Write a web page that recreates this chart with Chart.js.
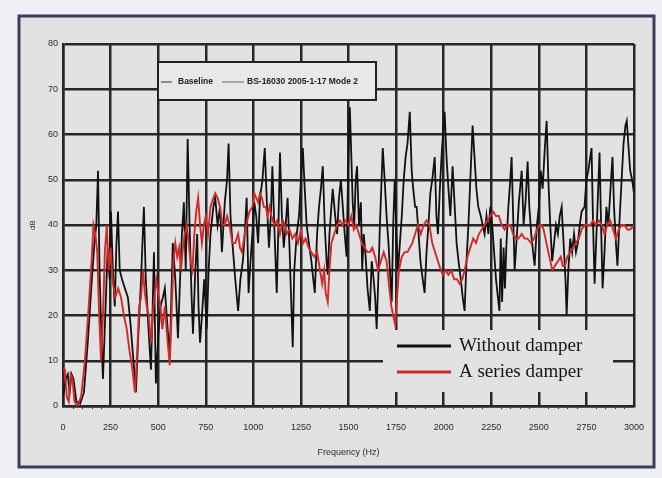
<!DOCTYPE html>
<html>
<head>
<meta charset="utf-8">
<title>Frequency response</title>
<script src="https://cdn.jsdelivr.net/npm/chart.js@4.4.0/dist/chart.umd.min.js"></script>
<style>
  html, body { margin: 0; padding: 0; background: #eef0f5; }
  #wrap { width: 662px; height: 478px; }
</style>
</head>
<body>
<div id="wrap"><canvas id="myChart" width="662" height="478"></canvas></div>
<script>
// values (Hz / dB), one line of freqs matches one line of values
const freqBlack = [
  0, 15, 25, 35, 45, 55, 70, 90, 110, 130,
  150, 165, 175, 184, 192, 200, 210, 222, 235, 245,
  252, 262, 272, 280, 289, 298, 310, 325, 341, 355,
  370, 383, 395, 410, 425, 435, 448, 462, 470, 478,
  483, 488, 500, 512, 525, 535, 548, 561, 570, 577,
  590, 604, 615, 625, 635, 645, 655, 665, 675, 683,
  695, 705, 712, 720, 730, 742, 755, 765, 775, 790,
  800, 812, 825, 835, 850, 862, 870, 880, 892, 905,
  920, 932, 945, 955, 965, 975, 985, 995, 1005, 1015,
  1025, 1035, 1048, 1060, 1072, 1082, 1092, 1100, 1110, 1123,
  1132, 1140, 1150, 1160, 1170, 1180, 1190, 1200, 1207, 1215,
  1228, 1240, 1250, 1260, 1270, 1280, 1292, 1305, 1315, 1323,
  1335, 1345, 1355, 1365, 1375, 1385, 1391, 1400, 1410, 1417,
  1430, 1440, 1450, 1460, 1470, 1480, 1490, 1498, 1507, 1515,
  1522, 1530, 1538, 1545, 1555, 1565, 1572, 1580, 1590, 1600,
  1612, 1622, 1632, 1640, 1648, 1658, 1665, 1672, 1680, 1690,
  1700, 1710, 1720, 1727, 1735, 1743, 1752, 1760, 1770, 1780,
  1790, 1800, 1810, 1822, 1832, 1840, 1850, 1858, 1868, 1878,
  1890, 1900, 1910, 1920, 1930, 1940, 1953, 1962, 1970, 1980,
  1990, 2005, 2015, 2025, 2035, 2047, 2058, 2068, 2078, 2090,
  2100, 2110, 2120, 2130, 2140, 2152, 2162, 2172, 2182, 2195,
  2205, 2215, 2225, 2235, 2245, 2255, 2265, 2275, 2285, 2293,
  2300, 2307, 2315, 2322, 2330, 2340, 2350, 2357, 2365, 2373,
  2385, 2395, 2410, 2420, 2430, 2441, 2450, 2460, 2470, 2478,
  2490, 2500, 2510, 2520, 2530, 2541, 2550, 2560, 2570, 2580,
  2590, 2600, 2610, 2620, 2630, 2640, 2646, 2655, 2665, 2675,
  2685, 2695, 2705, 2715, 2725, 2740, 2750, 2760, 2770, 2777,
  2785, 2793, 2800, 2810, 2819, 2827, 2835, 2845, 2855, 2865,
  2875, 2887, 2895, 2905, 2913, 2925, 2935, 2945, 2955, 2962,
  2970, 2980, 2990, 3000
];
const dbBlack = [
  2, 6, 7, 3, 7, 6, 1, 0.5, 3, 14,
  27, 36, 40, 52, 30, 18, 6, 20, 35, 28,
  43, 30, 22, 35, 43, 30, 28, 26, 24, 18,
  10, 3, 15, 28, 44, 28, 18, 8, 20, 34,
  18, 5, 15, 22, 24, 26, 18, 11, 25, 36,
  28, 15, 28, 38, 45, 30, 59, 40, 25, 16,
  30, 38, 22, 14, 20, 28, 17, 30, 38, 44,
  46, 40, 44, 34, 45, 50, 58, 42, 35, 28,
  21, 28, 32, 38, 46, 25, 32, 38, 45, 42,
  36, 46, 50, 57, 44, 35, 42, 53, 40, 25,
  40, 56, 42, 35, 40, 46, 35, 22, 13, 30,
  38, 42, 50, 57, 48, 40, 36, 32, 28, 25,
  38, 44, 48, 53, 40, 32, 29, 38, 44, 48,
  42, 38, 46, 50, 44, 38, 33, 52, 66, 55,
  45, 40, 50, 53, 40, 45, 30, 38, 33, 26,
  21, 32, 28, 24, 17, 30, 40, 48, 57, 50,
  42, 36, 28, 23, 40, 50, 38, 30, 36, 42,
  50, 55, 58, 65, 52, 48, 44, 44, 38, 32,
  28, 25, 34, 40, 47, 50, 55, 42, 38, 48,
  56, 65, 55, 48, 42, 53, 44, 36, 32, 28,
  24, 21, 32, 40, 50, 62, 55, 48, 44, 42,
  40, 38, 42, 38, 44, 40, 34, 28, 24, 21,
  37, 23, 35, 26, 36, 44, 50, 55, 42, 30,
  38, 45, 52, 40, 45, 54, 44, 38, 34, 31,
  40, 44, 52, 48, 56, 63, 50, 40, 32, 36,
  40, 38, 42, 44, 36, 28, 20, 30, 37, 34,
  38, 34, 36, 40, 43, 44, 50, 52, 55, 57,
  40, 27, 35, 46, 56, 40, 26, 34, 44, 40,
  47, 55, 44, 36, 31, 42, 50, 58, 62, 63,
  58, 52, 50, 47
];

const freqRed = [
  0, 10, 20, 30, 40, 50, 60, 75, 95, 115,
  135, 150, 160, 170, 180, 190, 200, 210, 220, 230,
  240, 250, 260, 275, 290, 305, 320, 335, 350, 365,
  378, 390, 400, 410, 420, 430, 440, 450, 462, 475,
  490, 500, 512, 522, 535, 548, 561, 570, 580, 590,
  600, 610, 620, 630, 640, 650, 660, 670, 680, 690,
  700, 710, 720, 730, 740, 750, 762, 775, 790, 800,
  812, 825, 838, 850, 862, 875, 890, 905, 920, 930,
  940, 955, 968, 980, 995, 1005, 1015, 1025, 1035, 1045,
  1055, 1065, 1075, 1085, 1095, 1110, 1125, 1140, 1155, 1165,
  1175, 1190, 1205, 1220, 1235, 1250, 1262, 1275, 1290, 1305,
  1320, 1335, 1350, 1362, 1372, 1380, 1391, 1400, 1410, 1425,
  1440, 1455, 1470, 1485, 1500, 1515, 1528, 1540, 1555, 1570,
  1585, 1600, 1612, 1625, 1640, 1655, 1670, 1685, 1700, 1712,
  1725, 1735, 1745, 1755, 1765, 1780, 1795, 1810, 1822, 1835,
  1850, 1865, 1880, 1895, 1910, 1925, 1940, 1955, 1970, 1985,
  1995, 2010, 2025, 2040, 2055, 2070, 2084, 2098, 2110, 2125,
  2140, 2155, 2170, 2185, 2200, 2215, 2230, 2245, 2260, 2275,
  2290, 2305, 2320, 2335, 2350, 2365, 2380, 2393, 2410, 2425,
  2440, 2460, 2475, 2490, 2505, 2515, 2525, 2540, 2555, 2571,
  2585, 2600, 2615, 2625, 2637, 2650, 2665, 2680, 2695, 2710,
  2725, 2740, 2755, 2770, 2785, 2800, 2815, 2830, 2845, 2860,
  2875, 2890, 2905, 2920, 2935, 2950, 2965, 2980, 3000
];
const dbRed = [
  8, 8, 2, 1, 7, 6, 1, 0, 2, 10,
  22, 32, 40, 38, 34, 20, 10, 20, 34, 40,
  30, 35, 28, 24, 26, 24, 20, 17, 12, 8,
  3, 12, 22, 24, 30, 25, 22, 20, 14, 22,
  28, 25, 22, 17, 22, 15, 9, 20, 32, 36,
  33, 35, 30, 35, 38, 40, 36, 32, 30, 38,
  43, 46, 40, 36, 40, 42, 38, 44, 46, 47,
  46, 44, 40, 40, 42, 40, 36, 36, 38, 35,
  34, 38, 41, 43, 44, 47, 46, 45, 47, 46,
  44, 44, 42, 44, 42, 40, 41, 38, 41, 40,
  38, 39, 37, 38, 36, 39, 36, 37, 35, 34,
  33, 34, 30, 27, 30, 25, 23, 30, 36, 38,
  40, 41, 40, 41, 40, 42, 39, 40, 38, 36,
  35, 34, 34, 35, 33, 30, 32, 34, 32, 27,
  22, 20, 18, 24, 30, 33, 34, 34, 35, 36,
  38, 40, 38, 40, 41, 40, 36, 34, 32, 30,
  29, 30, 29, 30, 28, 28, 27, 28, 30, 33,
  35, 37, 36, 38, 39, 40, 41, 42, 43, 42,
  42, 40, 39, 40, 40, 38, 37, 37, 38, 37,
  37, 36, 37, 39, 40, 40, 39, 36, 33, 30,
  31, 32, 33, 31, 31, 33, 34, 35, 36, 37,
  39, 40, 40, 40, 41, 40, 41, 40, 38, 40,
  41, 39, 37, 39, 40, 40, 39, 39, 40
];

const xTicks = [0, 250, 500, 750, 1000, 1250, 1500, 1750, 2000, 2250, 2500, 2750, 3000];
const yTicks = [0, 10, 20, 30, 40, 50, 60, 70, 80];
const seriesNames = ['Without damper', 'A series damper'];
const boxLabels = ['Baseline', 'BS-16030 2005-1-17 Mode 2'];

const plotBg = '#e2e2e2';
const gridColor = '#262626';

function toPoints(xs, ys) {
  return xs.map((x, i) => ({ x: x, y: ys[i] }));
}

// light page, grey panel and dark frame round it
const framePlugin = {
  id: 'frame',
  beforeDraw(chart) {
    const c = chart.ctx;
    c.save();
    c.fillStyle = '#eef0f5';
    c.fillRect(0, 0, chart.width, chart.height);
    c.fillStyle = plotBg;
    c.fillRect(19, 16, 635, 451);
    c.strokeStyle = '#3a3e5a';
    c.lineWidth = 3;
    c.strokeRect(19, 16, 635, 451);
    c.restore();
  }
};

// small minor ticks along the frequency axis
const minorTicks = {
  id: 'minorTicks',
  afterDraw(chart) {
    const c = chart.ctx;
    const xs = chart.scales.x;
    const bottom = chart.chartArea.bottom;
    c.save();
    c.strokeStyle = '#333';
    c.lineWidth = 1;
    for (let f = 50; f < 3000; f += 50) {
      if (f % 250 === 0) continue;
      const px = Math.round(xs.getPixelForValue(f)) + 0.5;
      c.beginPath();
      c.moveTo(px, bottom - 1);
      c.lineTo(px, bottom + 3);
      c.stroke();
    }
    c.restore();
  }
};

// the two legend boxes drawn inside the plot
const legendBoxes = {
  id: 'legendBoxes',
  afterDatasetsDraw(chart) {
    const c = chart.ctx;
    c.save();

    // old legend box near the top
    c.fillStyle = '#e8e8e8';
    c.fillRect(158, 62, 218, 38);
    c.strokeStyle = '#222';
    c.lineWidth = 2;
    c.strokeRect(158, 62, 218, 38);
    c.lineWidth = 1;
    c.strokeStyle = '#333';
    c.beginPath(); c.moveTo(161, 82); c.lineTo(172, 82); c.stroke();
    c.strokeStyle = '#666';
    c.beginPath(); c.moveTo(222, 82); c.lineTo(244, 82); c.stroke();
    c.fillStyle = '#222';
    c.font = 'bold 8.5px "Liberation Sans", Arial, sans-serif';
    c.textBaseline = 'middle';
    c.fillText(boxLabels[0], 178, 82);
    c.fillText(boxLabels[1], 247, 82);

    // series legend, bottom right
    c.fillStyle = plotBg;
    c.fillRect(383, 330, 230, 62);
    c.lineWidth = 3;
    c.strokeStyle = '#111';
    c.beginPath(); c.moveTo(397, 346); c.lineTo(451, 346); c.stroke();
    c.strokeStyle = '#cc2b2b';
    c.beginPath(); c.moveTo(397, 372); c.lineTo(451, 372); c.stroke();
    c.fillStyle = '#151515';
    c.font = '19px "Liberation Serif", "Times New Roman", serif';
    c.fillText(seriesNames[0], 459, 346);
    c.fillText(seriesNames[1], 459, 372);
    c.restore();
  }
};

const ctx = document.getElementById('myChart');

new Chart(ctx, {
  type: 'line',
  data: {
    datasets: [
      {
        label: seriesNames[1],
        data: toPoints(freqRed, dbRed),
        borderColor: '#d02a2a',
        borderWidth: 1.9,
        pointRadius: 0,
        tension: 0
      },
      {
        label: seriesNames[0],
        data: toPoints(freqBlack, dbBlack),
        borderColor: '#111111',
        borderWidth: 1.8,
        pointRadius: 0,
        tension: 0
      }
    ]
  },
  options: {
    responsive: false,
    animation: false,
    devicePixelRatio: 1,
    layout: { padding: { top: 44, right: 28, bottom: 0, left: 0 } },
    plugins: {
      legend: { display: false },
      tooltip: { enabled: false }
    },
    scales: {
      x: {
        type: 'linear',
        min: 0,
        max: 3000,
        afterBuildTicks: s => { s.ticks = xTicks.map(v => ({ value: v })); },
        afterFit: s => { s.height = 72; },
        ticks: {
          color: '#2a2a2a',
          padding: 16,
          maxRotation: 0,
          callback: v => String(v),
          font: { size: 9, family: '"Liberation Sans", Arial, sans-serif' }
        },
        grid: { color: gridColor, lineWidth: 2.5, drawTicks: false },
        border: { color: gridColor, width: 2.5 },
        title: {
          display: true,
          text: 'Frequency (Hz)',
          color: '#2a2a2a',
          font: { size: 9, family: '"Liberation Sans", Arial, sans-serif' },
          padding: { top: 0, bottom: 20 }
        }
      },
      y: {
        min: 0,
        max: 80,
        afterBuildTicks: s => { s.ticks = yTicks.map(v => ({ value: v })); },
        afterFit: s => { s.width = 63; },
        ticks: {
          color: '#2a2a2a',
          padding: 5,
          callback: v => String(v),
          font: { size: 9, family: '"Liberation Sans", Arial, sans-serif' }
        },
        grid: { color: gridColor, lineWidth: 2.5, drawTicks: false },
        border: { color: gridColor, width: 2.5 },
        title: {
          display: true,
          text: 'dB',
          color: '#2a2a2a',
          font: { size: 8, family: '"Liberation Sans", Arial, sans-serif' },
          padding: { top: 28, bottom: 0 }
        }
      }
    }
  },
  plugins: [framePlugin, minorTicks, legendBoxes]
});
</script>
</body>
</html>
